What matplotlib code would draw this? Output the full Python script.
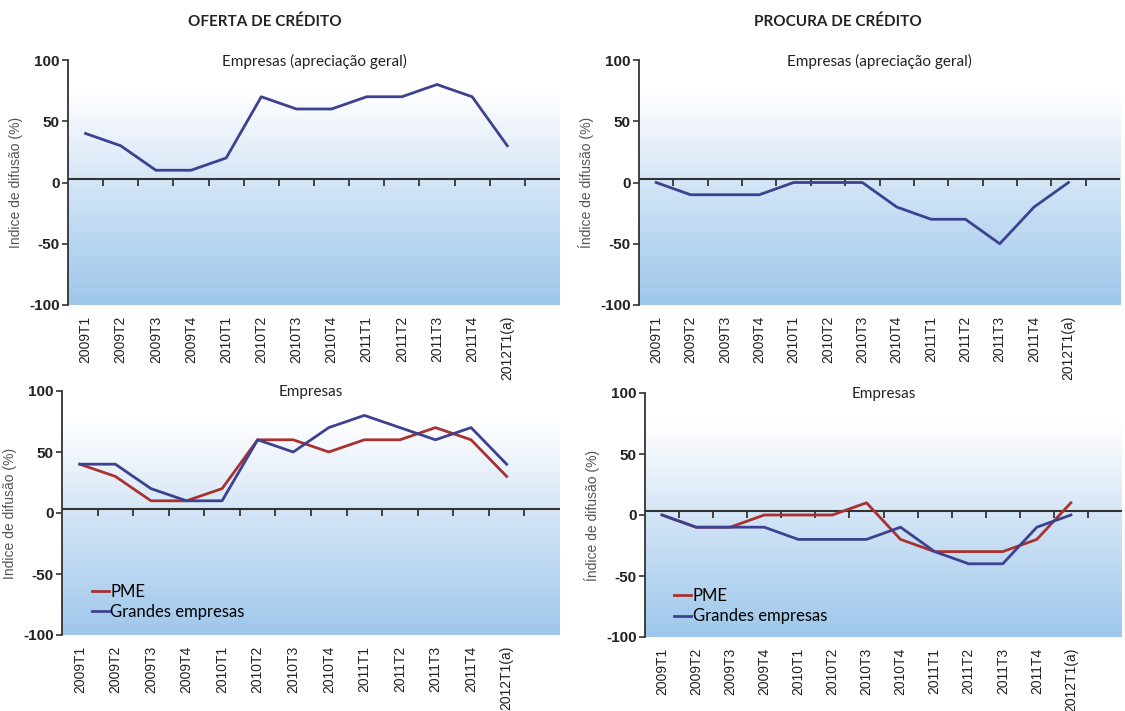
import numpy as np
import matplotlib
matplotlib.use("Agg")
import matplotlib.pyplot as plt
from matplotlib.colors import LinearSegmentedColormap

# Data
# =============================================================================
quarters = ['2009T1', '2009T2', '2009T3', '2009T4', '2010T1', '2010T2', '2010T3',
            '2010T4', '2011T1', '2011T2', '2011T3', '2011T4', '2012T1(a)']

oferta_geral = [40, 30, 10, 10, 20, 70, 60, 60, 70, 70, 80, 70, 30]
procura_geral = [0, -10, -10, -10, 0, 0, 0, -20, -30, -30, -50, -20, 0]

oferta_pme = [40, 30, 10, 10, 20, 60, 60, 50, 60, 60, 70, 60, 30]
oferta_grandes = [40, 40, 20, 10, 10, 60, 50, 70, 80, 70, 60, 70, 40]

procura_pme = [0, -10, -10, 0, 0, 0, 10, -20, -30, -30, -30, -20, 10]
procura_grandes = [0, -10, -10, -10, -20, -20, -20, -10, -30, -40, -40, -10, 0]

yticks = [-100, -50, 0, 50, 100]

BLUE = '#3d4290'
RED = '#a8322f'
TXT = '#222222'

plt.rcParams['font.family'] = ['Liberation Sans', 'DejaVu Sans']
plt.rcParams['axes.unicode_minus'] = False

# background gradient: white at the top, light blue at the bottom
bg_cmap = LinearSegmentedColormap.from_list(
    'bg', [(0.0, '#9ec7eb'), (0.5, '#d3e5f6'), (0.72, '#eef4fb'), (0.88, '#ffffff'), (1.0, '#ffffff')])
grad = np.linspace(0, 1, 256).reshape(-1, 1)


def setup_axes(ax, title, ylabel):
    x = np.arange(len(quarters))
    ax.imshow(grad, cmap=bg_cmap, origin='lower', aspect='auto',
              extent=(-0.5, 13.5, -100, 100), zorder=0)
    ax.set_xlim(-0.5, 13.5)
    ax.set_ylim(-100, 100)
    for s in ['top', 'right', 'bottom']:
        ax.spines[s].set_visible(False)
    ax.spines['left'].set_color('#333333')
    ax.spines['left'].set_linewidth(1.3)
    ax.set_yticks(yticks)
    ax.tick_params(axis='y', length=4, width=1.2, color='#333333',
                   labelsize=11, labelcolor=TXT, pad=2)
    ax.set_xticks(x)
    ax.set_xticklabels(quarters, rotation=90, fontsize=10, color=TXT)
    ax.tick_params(axis='x', length=0, pad=8)
    for lab in ax.get_yticklabels():
        lab.set_fontweight('bold')
    # zero line with small ticks between categories
    ax.axhline(3, color='#333333', lw=1.5, zorder=2)
    ax.plot(x + 0.5, [3] * len(x), ls='none', marker=3, ms=5, mew=1.3,
            color='#333333', zorder=2)
    ax.text(0.5, 0.995, title, transform=ax.transAxes, ha='center', va='center',
            fontsize=11, color=TXT, family=['Lato', 'DejaVu Sans'])
    ax.set_ylabel(ylabel, fontsize=10, color='#555555', labelpad=4)
    return x


fig = plt.figure(figsize=(11.25, 7.11), dpi=100)
W, H = 1125, 711


def add_axes(left, right, top, bottom):
    return fig.add_axes([left / W, 1 - bottom / H, (right - left) / W, (bottom - top) / H])


ax_tl = add_axes(68, 560, 60, 305)
ax_tr = add_axes(639, 1120, 60, 305)
ax_bl = add_axes(62, 560, 391, 635)
ax_br = add_axes(645, 1122, 393, 637)

x = setup_axes(ax_tl, 'Empresas (apreciação geral)', 'Indice de difusão (%)')
ax_tl.plot(x, oferta_geral, color=BLUE, lw=2, zorder=3)

setup_axes(ax_tr, 'Empresas (apreciação geral)', 'Índice de difusão (%)')
ax_tr.plot(x, procura_geral, color=BLUE, lw=2, zorder=3)

setup_axes(ax_bl, 'Empresas', 'Indice de difusão (%)')
ax_bl.plot(x, oferta_pme, color=RED, lw=2, zorder=3, label='PME')
ax_bl.plot(x, oferta_grandes, color=BLUE, lw=2, zorder=3, label='Grandes empresas')

setup_axes(ax_br, 'Empresas', 'Índice de difusão (%)')
ax_br.plot(x, procura_pme, color=RED, lw=2, zorder=3, label='PME')
ax_br.plot(x, procura_grandes, color=BLUE, lw=2, zorder=3, label='Grandes empresas')

ax_bl.legend(loc='lower left', bbox_to_anchor=(0.03, 0.0), frameon=False,
             handlelength=1.0, handletextpad=0.1, labelspacing=0.25,
             prop={'family': ['Lato', 'DejaVu Sans'], 'size': 12})
ax_br.legend(loc='lower left', bbox_to_anchor=(0.03, -0.01), frameon=False,
             handlelength=1.0, handletextpad=0.1, labelspacing=0.25,
             prop={'family': ['Lato', 'DejaVu Sans'], 'size': 12})

fig.text(265 / W, 1 - 22 / H, 'OFERTA DE CRÉDITO', ha='center', va='center',
         fontsize=11, fontweight='bold', color=TXT, family=['Lato', 'DejaVu Sans'])
fig.text(838 / W, 1 - 22 / H, 'PROCURA DE CRÉDITO', ha='center', va='center',
         fontsize=11, fontweight='bold', color=TXT, family=['Lato', 'DejaVu Sans'])

fig.savefig('out.png', dpi=100)
